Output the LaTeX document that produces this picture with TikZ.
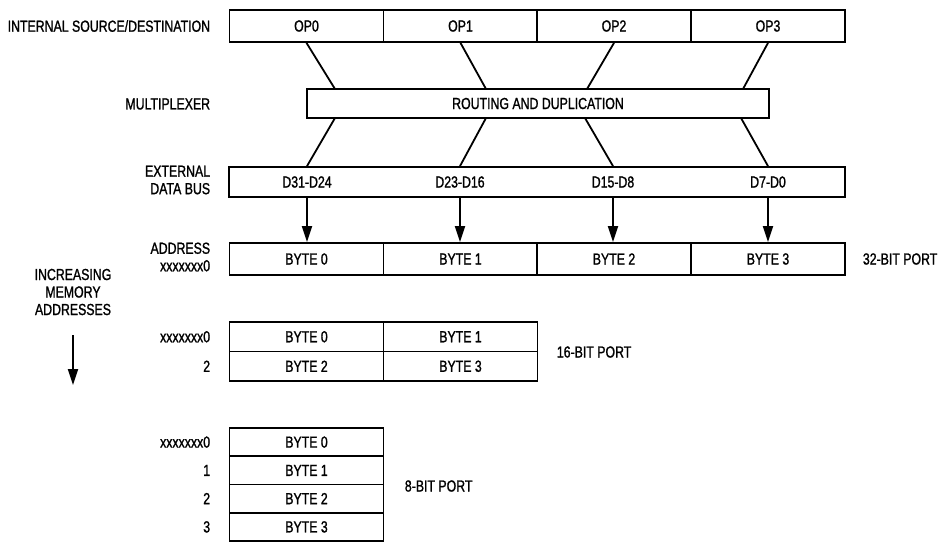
\documentclass[tikz,border=0pt]{standalone}
\usepackage{fontspec}
\setmainfont{Liberation Sans}[FakeStretch=0.77,FakeBold=1.2]
\usetikzlibrary{arrows.meta}
\begin{document}
\begin{tikzpicture}[x=1pt,y=-1pt,line width=1.8pt,
  txt/.style={inner sep=0pt,font=\fontsize{16}{17.5}\selectfont},
  cellbox/.style={draw,txt,minimum width=154pt,minimum height=#1},
  cellbox/.default=32pt,
  lbl/.style={txt,anchor=east},
  link/.style={line width=1.8pt},
  arr/.style={line width=1.8pt,-{Triangle[length=16pt,width=10pt]}}]
\useasboundingbox (0,0) rectangle (940,542);

% top row
\node[cellbox] (op0) at (306.5,26) {OP0};
\node[cellbox] (op1) at (460.5,26) {OP1};
\node[cellbox] (op2) at (614,26) {OP2};
\node[cellbox] (op3) at (768,26) {OP3};
\node[lbl] (lsrc) at (211,26) {INTERNAL SOURCE/DESTINATION};

% multiplexer
\node[draw,txt,minimum width=462pt,minimum height=29pt] (mux) at (538,103.5) {ROUTING AND DUPLICATION};
\node[lbl] (lmux) at (211,104) {MULTIPLEXER};

% external data bus
\node[draw,minimum width=616pt,minimum height=30pt,inner sep=0pt] (bus) at (537,182) {};
\node[txt] (d0) at (307,182) {D31-D24};
\node[txt] (d1) at (460,182) {D23-D16};
\node[txt] (d2) at (613,182) {D15-D8};
\node[txt] (d3) at (768,182) {D7-D0};
\node[lbl,align=right] (lbus) at (211,180) {EXTERNAL\\DATA BUS};

% connector coordinates on mux
\coordinate (mt0) at (335,89);
\coordinate (mt1) at (486,89);
\coordinate (mt2) at (587,89);
\coordinate (mt3) at (743,89);
\coordinate (mb0) at (335,118);
\coordinate (mb1) at (486,118);
\coordinate (mb2) at (585,118);
\coordinate (mb3) at (741,118);

\draw[link] (op0.south) -- (mt0);
\draw[link] (op1.south) -- (mt1);
\draw[link] (op2.south) -- (mt2);
\draw[link] (op3.south) -- (mt3);
\draw[link] (mb0) -- (d0 |- bus.north);
\draw[link] (mb1) -- (d1 |- bus.north);
\draw[link] (mb2) -- (d2 |- bus.north);
\draw[link] (mb3) -- (d3 |- bus.north);

% 32-bit port
\node[cellbox] (b0) at (306.5,259) {BYTE 0};
\node[cellbox] (b1) at (460.5,259) {BYTE 1};
\node[cellbox] (b2) at (614,259) {BYTE 2};
\node[cellbox] (b3) at (768,259) {BYTE 3};
\node[lbl,align=right] (laddr) at (211,257) {ADDRESS\\xxxxxxx0};
\node[txt,anchor=west] (p32) at (862,259) {32-BIT PORT};

\draw[arr] (d0 |- bus.south) -- (d0 |- b0.north);
\draw[arr] (d1 |- bus.south) -- (d1 |- b1.north);
\draw[arr] (d2 |- bus.south) -- (d2 |- b2.north);
\draw[arr] (d3 |- bus.south) -- (d3 |- b3.north);

% increasing memory addresses
\node[txt,align=center] (inc) at (73,292) {INCREASING\\MEMORY\\ADDRESSES};
\coordinate (ia) at (73,335);
\coordinate (ib) at (73,385);
\draw[arr] (ia) -- (ib);

% 16-bit port
\node[cellbox=29.5pt] (s0) at (306.5,336.75) {BYTE 0};
\node[cellbox=29.5pt] (s1) at (460.5,336.75) {BYTE 1};
\node[cellbox=29.5pt] (s2) at (306.5,366.25) {BYTE 2};
\node[cellbox=29.5pt] (s3) at (460.5,366.25) {BYTE 3};
\node[lbl] (ls0) at (211,336.75) {xxxxxxx0};
\node[lbl] (ls2) at (211,366.25) {2};
\node[txt,anchor=west] (p16) at (556,352) {16-BIT PORT};

% 8-bit port
\node[cellbox=28.25pt] (e0) at (306.5,442.1) {BYTE 0};
\node[cellbox=28.25pt] (e1) at (306.5,470.4) {BYTE 1};
\node[cellbox=28.25pt] (e2) at (306.5,498.6) {BYTE 2};
\node[cellbox=28.25pt] (e3) at (306.5,526.9) {BYTE 3};
\node[lbl] (le0) at (211,442.1) {xxxxxxx0};
\node[lbl] (le1) at (211,470.4) {1};
\node[lbl] (le2) at (211,498.6) {2};
\node[lbl] (le3) at (211,526.9) {3};
\node[txt,anchor=west] (p8) at (404,486) {8-BIT PORT};
\end{tikzpicture}
\end{document}
